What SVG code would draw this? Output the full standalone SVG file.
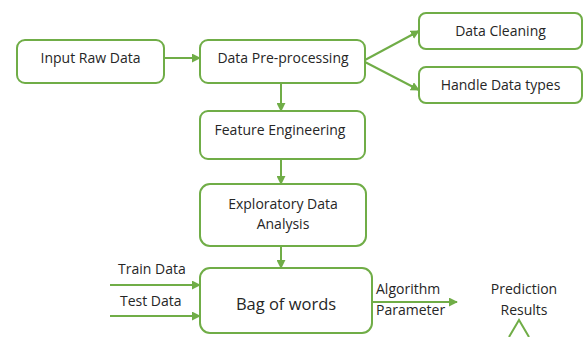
<svg xmlns="http://www.w3.org/2000/svg" width="584" height="337" viewBox="0 0 584 337">
<defs>
<marker id="ah" viewBox="0 0 10 10" refX="9" refY="5" markerWidth="9" markerHeight="9" markerUnits="userSpaceOnUse" orient="auto">
<path d="M0,0 L10,5 L0,10 z" fill="#70AD47"/>
</marker>
<style>
.box{fill:#fff;stroke:#70AD47;stroke-width:2}
.t{font-family:"Open Sans","Noto Sans",sans-serif;font-size:14px;fill:#262626;text-anchor:middle}
.l{font-family:"Open Sans","Noto Sans",sans-serif;font-size:14px;fill:#262626}
.c{stroke:#70AD47;stroke-width:2;fill:none;marker-end:url(#ah)}
</style>
</defs>
<rect width="584" height="337" fill="#fff"/>
<g id="connectors">
<line class="c" x1="164" y1="58" x2="200" y2="58"/>
<line class="c" x1="365" y1="60" x2="419" y2="31"/>
<line class="c" x1="365" y1="62" x2="419" y2="90"/>
<line class="c" x1="281" y1="83" x2="281" y2="111"/>
<line class="c" x1="281" y1="159" x2="281" y2="184"/>
<line class="c" x1="281" y1="246" x2="281" y2="268"/>
<line class="c" x1="110" y1="285" x2="200" y2="285"/>
<line class="c" x1="110" y1="316" x2="200" y2="316"/>
<line class="c" x1="372" y1="302" x2="457" y2="302"/>
<polyline points="509,337 519,320 529,337" fill="none" stroke="#70AD47" stroke-width="2"/>
</g>
<g id="input"><rect class="box" x="17" y="40" width="147" height="43" rx="8"/><text class="t" x="90.5" y="63">Input Raw Data</text></g>
<g id="preproc"><rect class="box" x="200" y="40" width="165" height="43" rx="8"/><text class="t" x="283" y="63">Data Pre-processing</text></g>
<g id="cleaning"><rect class="box" x="419" y="13" width="163" height="36" rx="7"/><text class="t" x="500.5" y="36">Data Cleaning</text></g>
<g id="types"><rect class="box" x="419" y="67" width="163" height="36" rx="7"/><text class="t" x="500.5" y="90">Handle Data types</text></g>
<g id="feature"><rect class="box" x="200" y="111" width="165" height="48" rx="8"/><text class="t" x="280" y="135">Feature Engineering</text></g>
<g id="eda"><rect class="box" x="200" y="184" width="166" height="62" rx="10"/><text class="t" x="283" y="209">Exploratory Data</text><text class="t" x="283" y="229">Analysis</text></g>
<g id="bow"><rect class="box" x="200" y="268" width="172" height="65" rx="10"/><text class="t" x="286" y="310" style="font-size:16.5px">Bag of words</text></g>
<g id="labels">
<text class="l" x="118" y="274">Train Data</text>
<text class="l" x="120" y="306">Test Data</text>
<text class="l" x="376" y="294">Algorithm</text>
<text class="l" x="376" y="315">Parameter</text>
</g>
<g id="prediction"><text class="t" x="524" y="294">Prediction</text><text class="t" x="524" y="315">Results</text></g>
</svg>
